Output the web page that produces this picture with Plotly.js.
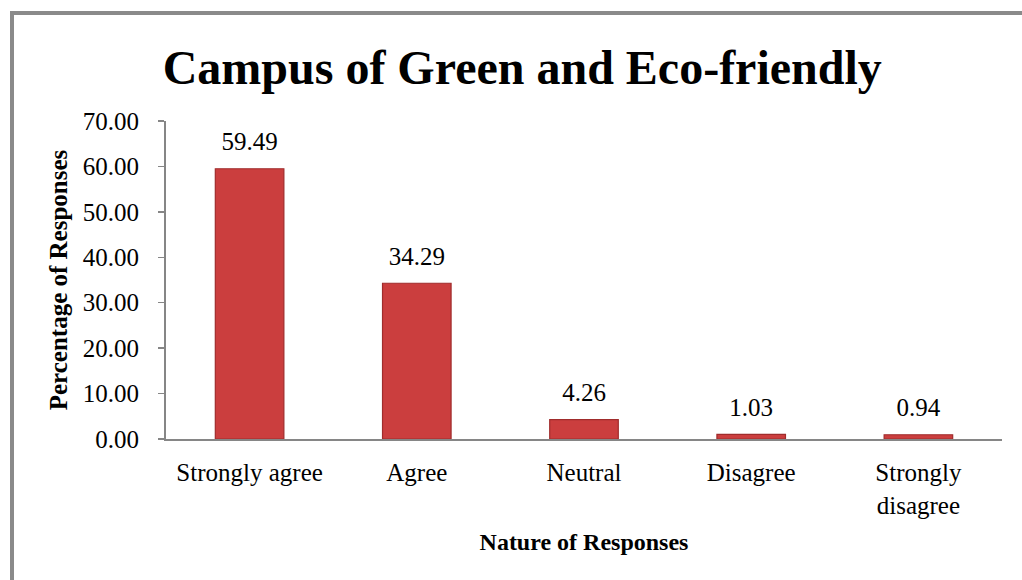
<!DOCTYPE html>
<html>
<head>
<meta charset="utf-8">
<script src="https://cdn.plot.ly/plotly-3.0.1.min.js"></script>
<style>
  html, body { margin: 0; padding: 0; background: #fff; }
  #wrap { position: relative; width: 1022px; height: 580px; overflow: hidden; }
  #chart { width: 1022px; height: 580px; }
  #frame { position: absolute; left: 10px; top: 11px; width: 2000px; height: 2000px;
           border-left: 4px solid #8a8a8a; border-top: 4px solid #8a8a8a; pointer-events: none; }
</style>
</head>
<body>
<div id="wrap">
  <div id="chart"></div>
  <div id="frame"></div>
</div>
<script>
const categories = ["Strongly agree", "Agree", "Neutral", "Disagree", "Strongly<br>disagree"];
const percentages = [59.49, 34.29, 4.26, 1.03, 0.94];
const valueLabels = ["59.49", "34.29", "4.26", "1.03", "0.94"];

const serif = "Liberation Serif";

const bars = {
  type: "bar",
  x: categories,
  y: percentages,
  width: 0.41,
  marker: { color: "#cb3e3e", line: { color: "#a02c2c", width: 1.2 } },
  hoverinfo: "x+y"
};

const labels = {
  type: "scatter",
  mode: "markers+text",
  x: categories,
  y: percentages,
  text: valueLabels,
  textposition: "top center",
  textfont: { family: serif, size: 25, color: "#000" },
  marker: { size: 18, opacity: 0 },
  cliponaxis: false,
  hoverinfo: "skip"
};

const layout = {
  width: 1022, height: 580,
  margin: { l: 166, r: 20, t: 121, b: 141 },
  paper_bgcolor: "#fff", plot_bgcolor: "#fff",
  showlegend: false,
  font: { family: serif, color: "#000" },
  title: {
    text: "<b>Campus of Green and Eco-friendly</b>",
    font: { family: serif, size: 48, color: "#000" },
    x: 0.511, xanchor: "center", y: 0.885, yanchor: "middle"
  },
  xaxis: {
    type: "category",
    showline: true, linecolor: "#868686", linewidth: 2,
    ticks: "", showgrid: false, zeroline: false,
    tickfont: { family: serif, size: 25, color: "#000" },
    ticklabelstandoff: 10,
    title: { text: "<b>Nature of Responses</b>", font: { family: serif, size: 24, color: "#000" }, standoff: 16 }
  },
  yaxis: {
    range: [0, 70], dtick: 10, tick0: 0, tickformat: ".2f",
    showline: true, linecolor: "#868686", linewidth: 2,
    ticks: "outside", ticklen: 6, tickwidth: 1.5, tickcolor: "#868686",
    showgrid: false, zeroline: false,
    tickfont: { family: serif, size: 25, color: "#000" },
    ticklabelstandoff: 14,
    title: { text: "<b>Percentage of Responses</b>", font: { family: serif, size: 25, color: "#000" }, standoff: 8 }
  }
};

Plotly.newPlot("chart", [bars, labels], layout, { displayModeBar: false, staticPlot: true });
</script>
</body>
</html>
